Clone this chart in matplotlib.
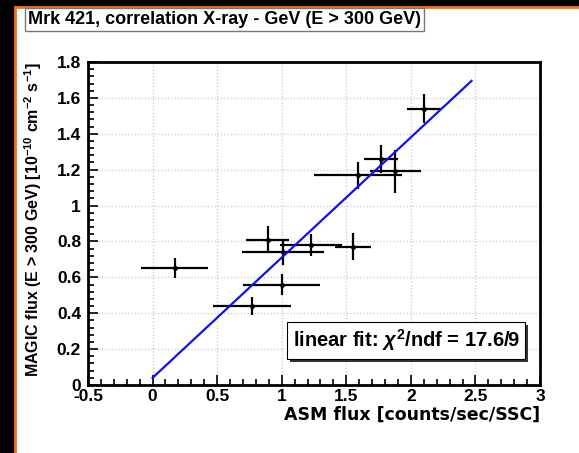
# Mrk 421: MAGIC flux vs ASM X-ray flux, with a linear fit
import numpy as np
import matplotlib.pyplot as plt
import matplotlib.patheffects as pe
from matplotlib.patches import Rectangle
from matplotlib.lines import Line2D
from matplotlib.ticker import MultipleLocator

plt.rcParams['font.family'] = ['Liberation Sans', 'DejaVu Sans']
plt.rcParams['font.weight'] = 'bold'
plt.rcParams['mathtext.fontset'] = 'custom'
plt.rcParams['mathtext.rm'] = 'Liberation Sans:bold'
plt.rcParams['mathtext.bf'] = 'Liberation Sans:bold'
plt.rcParams['mathtext.it'] = 'Liberation Sans:italic'

# data
asm_flux = [0.17, 0.77, 1.00, 0.89, 1.01, 1.23, 1.55, 1.59, 1.77, 1.88, 2.10]
asm_err = [0.26, 0.30, 0.30, 0.17, 0.32, 0.24, 0.14, 0.34, 0.13, 0.20, 0.13]
magic_flux = [0.65, 0.44, 0.56, 0.81, 0.74, 0.78, 0.77, 1.17, 1.26, 1.19, 1.54]
magic_err = [0.055, 0.05, 0.06, 0.075, 0.07, 0.06, 0.075, 0.075, 0.08, 0.12, 0.08]

fit_slope = 0.67
fit_offset = 0.04
fit_range = [0.0, 2.47]
fit_text = r'linear fit: $\chi^2$/ndf = 17.6/9'


def main():
    fig = plt.figure(figsize=(5.79, 4.53), dpi=100, facecolor='black')

    # white canvas with orange edge, like the screenshot
    x0, ytop = 15 / 579, 1 - 7 / 453
    fig.patches.append(Rectangle((x0, 0), 1 - x0, ytop, transform=fig.transFigure,
                                 facecolor='white', edgecolor='none', zorder=-5))
    fig.lines.append(Line2D([x0, x0], [0, ytop], transform=fig.transFigure,
                            color='#f07020', lw=2, zorder=-4))
    fig.lines.append(Line2D([x0, 1], [ytop, ytop], transform=fig.transFigure,
                            color='#f07020', lw=2, zorder=-4))

    ax = fig.add_axes([88 / 579, 1 - 385 / 453, 452 / 579, 323 / 453])
    ax.set_zorder(2)

    ax.errorbar(asm_flux, magic_flux, xerr=asm_err, yerr=magic_err, fmt='o',
                ms=2.5, color='black', ecolor='black', elinewidth=1.6,
                capsize=0, zorder=3)

    xf = np.array(fit_range)
    ax.plot(xf, fit_offset + fit_slope * xf, color='#1010ee', lw=1.6, zorder=4)

    ax.set_xlim(-0.5, 3)
    ax.set_ylim(0, 1.8)
    ax.xaxis.set_minor_locator(MultipleLocator(0.1))
    ax.yaxis.set_minor_locator(MultipleLocator(0.04))
    ax.set_xticks([-0.5, 0, 0.5, 1, 1.5, 2, 2.5, 3])
    ax.set_xticklabels(['-0.5', '0', '0.5', '1', '1.5', '2', '2.5', '3'])
    ax.set_yticks([0, 0.2, 0.4, 0.6, 0.8, 1, 1.2, 1.4, 1.6, 1.8])
    ax.set_yticklabels(['0', '0.2', '0.4', '0.6', '0.8', '1', '1.2', '1.4', '1.6', '1.8'])
    ax.tick_params(which='both', direction='in', top=False, right=False,
                   labelsize=12.5, width=1.2)
    ax.tick_params(which='major', length=7)
    ax.tick_params(which='minor', length=4)
    ax.tick_params(axis='x', pad=3)
    ax.tick_params(axis='y', pad=5)
    for lab in ax.get_xticklabels() + ax.get_yticklabels():
        lab.set_fontweight('bold')
    for sp in ax.spines.values():
        sp.set_linewidth(2)
    ax.grid(True, which='major', color='#c8c8c8', linestyle=':', lw=0.9)

    ax.set_xlabel('ASM flux [counts/sec/SSC]', fontsize=12.5, fontweight='bold',
                  family='DejaVu Sans', loc='right', labelpad=1)
    ax.set_ylabel(r'MAGIC flux (E > 300 GeV) [10$^{-10}$ cm$^{-2}$ s$^{-1}$]',
                  fontsize=11.5, fontweight='bold', loc='top', labelpad=9)

    # fit box with a drop shadow
    leg = ax.text(0.955, 0.138, fit_text, transform=ax.transAxes,
                  ha='right', va='center', fontsize=14.5, fontweight='bold', zorder=6,
                  bbox=dict(boxstyle='square,pad=0.28', facecolor='white',
                            edgecolor='black', lw=0.8))
    leg.get_bbox_patch().set_path_effects([
        pe.SimplePatchShadow(offset=(2, -2), shadow_rgbFace='black', alpha=0.8),
        pe.Normal()])

    fig.text(28 / 579, 1 - 19.5 / 453, 'Mrk 421, correlation X-ray - GeV (E > 300 GeV)',
             ha='left', va='center', fontsize=13, fontweight='bold',
             bbox=dict(boxstyle='square,pad=0.15', facecolor='white',
                       edgecolor='#777777', lw=1))

    fig.savefig('out.png', dpi=100, facecolor=fig.get_facecolor())


if __name__ == '__main__':
    main()
